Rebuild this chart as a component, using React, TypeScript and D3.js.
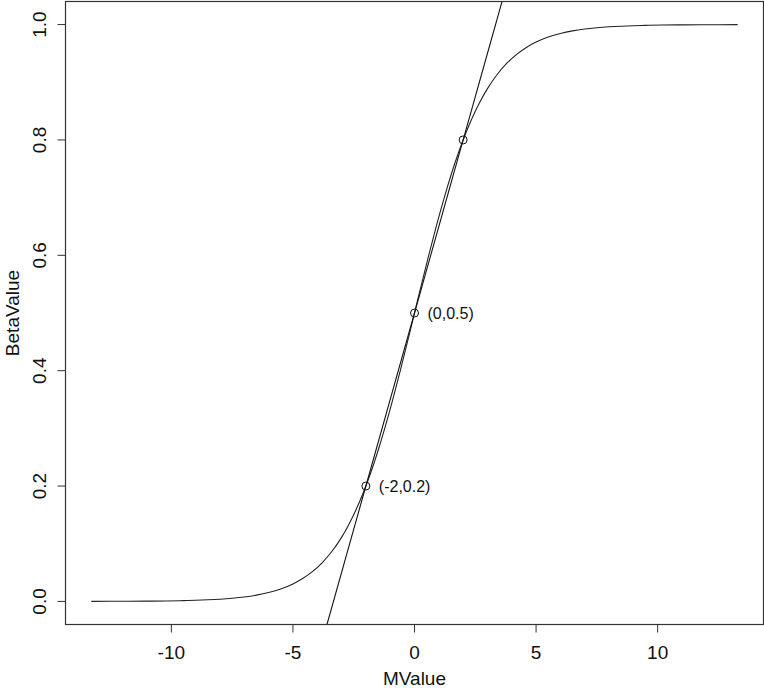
import React from 'react';
import * as d3 from 'd3';

// values
const mValues = [
  -13.29, -11.8, -11, -10.2, -9.5, -9, -8.5, -8, -7.5, -7, -6.5, -6, -5.5, -5, -4.6, -4.2, -3.8, -3.4,
  -3.0, -2.7, -2.4, -2.1, -1.8, -1.5, -1.2, -0.9, -0.6, -0.3, 0, 0.3, 0.6, 0.9, 1.2, 1.5, 1.8, 2.1,
  2.4, 2.7, 3.0, 3.4, 3.8, 4.2, 4.6, 5, 5.5, 6, 6.5, 7, 7.5, 8, 8.5, 9, 9.5, 10.2, 11, 11.8, 13.29,
];
const betaValues = [
  0.0001, 0.0003, 0.0005, 0.0008, 0.0014, 0.002, 0.0028, 0.0039, 0.0055, 0.0077, 0.0109, 0.0154, 0.0216,
  0.0303, 0.0396, 0.0516, 0.067, 0.0865, 0.111, 0.1334, 0.1593, 0.1892, 0.2231, 0.2612, 0.3033, 0.3489,
  0.3975, 0.4482, 0.5, 0.5518, 0.6025, 0.6511, 0.6967, 0.7388, 0.7769, 0.8108, 0.8407, 0.8666, 0.889,
  0.9135, 0.933, 0.9484, 0.9604, 0.9697, 0.9784, 0.9846, 0.9891, 0.9923, 0.9945, 0.9961, 0.9972, 0.998,
  0.9986, 0.9992, 0.9995, 0.9997, 0.9999,
];
const markedM = [-2, 0, 2];
const markedBeta = [0.2, 0.5, 0.8];
const markedLabels = ['(-2,0.2)', '(0,0.5)', ''];
const lineSlope = 0.15;
const lineIntercept = 0.5;
const xTicks = [-10, -5, 0, 5, 10];
const yTicks = [0, 0.2, 0.4, 0.6, 0.8, 1.0];

const W = 764;
const H = 688;
const left = 65.5, right = 763.5, top = 1.5, bottom = 624.5;
const font = '"Liberation Sans", Arial, sans-serif';

export default function App() {
  const mExt = d3.extent(mValues) as [number, number];
  const pad = (mExt[1] - mExt[0]) * 0.04;
  const x = d3.scaleLinear().domain([mExt[0] - pad, mExt[1] + pad]).range([left, right]);
  const y = d3.scaleLinear().domain([-0.04, 1.04]).range([bottom, top]);

  const pts: [number, number][] = mValues.map((m, i) => [m, betaValues[i]]);
  const curve = d3.line<[number, number]>()
    .x(d => x(d[0]))
    .y(d => y(d[1]))
    .curve(d3.curveMonotoneX)(pts);

  const [d0, d1] = x.domain();
  const tangent = d3.line<number>()
    .x(m => x(m))
    .y(m => y(lineIntercept + lineSlope * m))([d0, d1]);

  return (
    <svg width={W} height={H} style={{ position: 'absolute', left: 0, top: 0, background: '#fff' }}
      fontFamily={font}>
      <defs>
        <clipPath id="plotclip">
          <rect x={left} y={top} width={right - left} height={bottom - top} />
        </clipPath>
      </defs>
      <g clipPath="url(#plotclip)">
        <path d={curve || ''} fill="none" stroke="#222" strokeWidth={1.1} />
        <path d={tangent || ''} fill="none" stroke="#111" strokeWidth={1.1} />
      </g>
      {markedM.map((m, i) => (
        <g key={i}>
          <circle cx={x(m)} cy={y(markedBeta[i])} r={4} fill="none" stroke="#111" strokeWidth={1} />
          {markedLabels[i] && (
            <text x={x(m) + 13} y={y(markedBeta[i])} dy="0.35em" fontSize={16} fill="#111">
              {markedLabels[i]}
            </text>
          )}
        </g>
      ))}
      <rect x={left} y={top} width={right - left} height={bottom - top} fill="none" stroke="#333" strokeWidth={1.2} />
      {xTicks.map(t => (
        <g key={t}>
          <line x1={x(t)} x2={x(t)} y1={bottom} y2={bottom + 8} stroke="#333" />
          <text x={x(t)} y={659} textAnchor="middle" fontSize={19} fill="#111">{t}</text>
        </g>
      ))}
      {yTicks.map(t => (
        <g key={t}>
          <line x1={left} x2={left - 8} y1={y(t)} y2={y(t)} stroke="#333" />
          <text transform={`translate(46,${y(t)}) rotate(-90)`} textAnchor="middle" fontSize={19} fill="#111">
            {t.toFixed(1)}
          </text>
        </g>
      ))}
      <text x={(left + right) / 2} y={685} textAnchor="middle" fontSize={19} fill="#111">MValue</text>
      <text transform={`translate(19,${(top + bottom) / 2}) rotate(-90)`} textAnchor="middle" fontSize={19} fill="#111">
        BetaValue
      </text>
    </svg>
  );
}
